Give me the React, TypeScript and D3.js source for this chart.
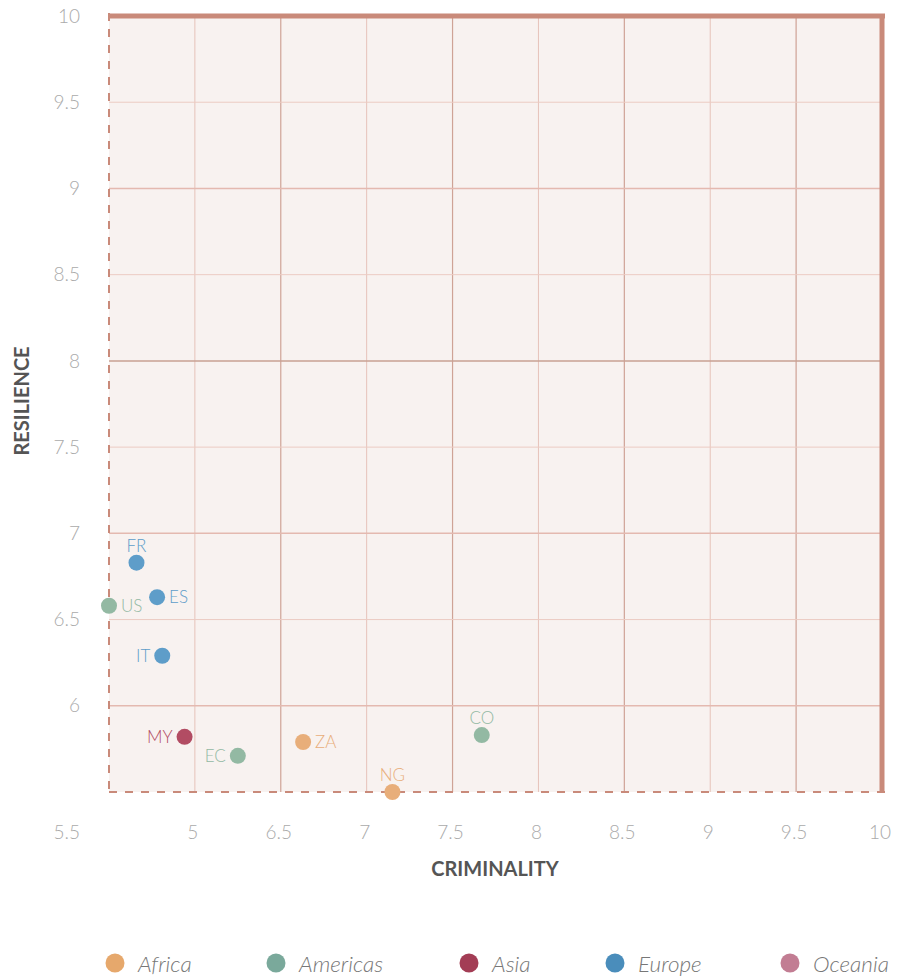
import React from "react";
import * as d3 from "d3";

const codes = ["FR", "ES", "US", "IT", "MY", "EC", "ZA", "NG", "CO"];
const regions = ["Europe", "Europe", "Americas", "Europe", "Asia", "Americas", "Africa", "Africa", "Americas"];
const criminality = [5.66, 5.78, 5.5, 5.81, 5.94, 6.25, 6.63, 7.15, 7.67];
const resilience = [6.83, 6.63, 6.58, 6.29, 5.82, 5.71, 5.79, 5.5, 5.83];
const labelPos = ["top", "right", "right", "left", "left", "left", "right", "top", "top"];

const legendNames = ["Africa", "Americas", "Asia", "Europe", "Oceania"];
const legendColors = ["#e6a86c", "#7aa99b", "#a33d55", "#4a8dbb", "#c27d93"];
const pointColors = ["#e8ae7a", "#93b9a3", "#b24c63", "#5e9dc9", "#c27d93"];

const xTickValues = [5.5, 6, 6.5, 7, 7.5, 8, 8.5, 9, 9.5, 10];
const xTickLabels = ["5.5", "5", "6.5", "7", "7.5", "8", "8.5", "9", "9.5", "10"];
const yTickValues = [6, 6.5, 7, 7.5, 8, 8.5, 9, 9.5, 10];
const yTickLabels = ["6", "6.5", "7", "7.5", "8", "8.5", "9", "9.5", "10"];
const gridY = [6, 6.5, 7, 7.5, 8, 8.5, 9, 9.5];
const gridX = [6, 6.5, 7, 7.5, 8, 8.5, 9, 9.5];

const FONT = "Lato, 'Open Sans', sans-serif";

export default function App() {
  const W = 899, H = 979;
  const left = 109, right = 882, top = 16, bottom = 792;
  const x = d3.scaleLinear().domain([5.5, 10]).range([left, right]);
  const y = d3.scaleLinear().domain([5.5, 10]).range([bottom, top]);
  const border = "#c98a7a";

  const colorFor = (r: string) => pointColors[legendNames.indexOf(r)];
  const legendX = [115, 276, 469, 615, 790];

  return (
    <svg width={W} height={H} style={{ position: "absolute", left: 0, top: 0, fontFamily: FONT }}>
      <rect x={left} y={top} width={right - left} height={bottom - top} fill="#f8f2f0" />
      {gridX.map((v, i) => {
        const dark = Math.round(v * 2) % 2 === 1;
        return (
          <line key={"vx" + i} x1={x(v)} x2={x(v)} y1={top} y2={bottom}
            stroke={dark ? "#cfa396" : "#e6c2b9"} strokeWidth={dark ? 1.2 : 1} />
        );
      })}
      {gridY.map((v, i) => {
        const isInt = Number.isInteger(v);
        const dark = v === 8;
        return (
          <line key={"hy" + i} x1={left} x2={right} y1={y(v)} y2={y(v)}
            stroke={dark ? "#c9a093" : isInt ? "#e4b9b0" : "#eccbc3"} strokeWidth={isInt ? 1.5 : 1} />
        );
      })}
      <line x1={left} x2={right + 3} y1={top} y2={top} stroke={border} strokeWidth={5} />
      <line x1={right} x2={right} y1={top} y2={bottom} stroke={border} strokeWidth={5} />
      <line x1={left} x2={left} y1={top - 3} y2={bottom} stroke={border} strokeWidth={2} strokeDasharray="8,8" />
      <line x1={left} x2={right + 8} y1={bottom} y2={bottom} stroke={border} strokeWidth={2} strokeDasharray="8,8" />

      {yTickValues.map((v, i) => (
        <text key={"yl" + i} x={80} y={y(v)} dy="0.35em" textAnchor="end" fontSize={19} fontWeight={300} fill="#aaaaaa">
          {yTickLabels[i]}
        </text>
      ))}
      {xTickValues.map((v, i) => (
        <text key={"xl" + i} x={i === 0 ? 80 : x(v) - 2} y={832} dy="0.35em" textAnchor={i === 0 ? "end" : "middle"}
          fontSize={19} fontWeight={300} fill="#aaaaaa">
          {xTickLabels[i]}
        </text>
      ))}

      <text x={495} y={869} dy="0.35em" textAnchor="middle" fontSize={20} fontWeight={700} fill="#555">CRIMINALITY</text>
      <text transform={`translate(22,401) rotate(-90)`} dy="0.35em" textAnchor="middle" fontSize={20} fontWeight={700} fill="#555">RESILIENCE</text>

      {codes.map((c, i) => {
        const cx = x(criminality[i]);
        const cy = y(resilience[i]);
        const col = colorFor(regions[i]);
        const p = labelPos[i];
        let lx = cx, ly = cy, anchor = "middle";
        if (p === "top") { ly = cy - 17; }
        else if (p === "right") { lx = cx + 12; anchor = "start"; }
        else { lx = cx - 12; anchor = "end"; }
        return (
          <g key={c}>
            <circle cx={cx} cy={cy} r={8} fill={col} />
            <text x={lx} y={ly} dy="0.35em" textAnchor={anchor} fontSize={17} fontWeight={300} fill={col}>{c}</text>
          </g>
        );
      })}

      {legendNames.map((n, i) => (
        <g key={n}>
          <circle cx={legendX[i]} cy={963} r={9.5} fill={legendColors[i]} />
          <text x={legendX[i] + 23} y={964} dy="0.35em" fontSize={22.5} fontStyle="italic" fontWeight={300} fill="#777">{n}</text>
        </g>
      ))}
    </svg>
  );
}
